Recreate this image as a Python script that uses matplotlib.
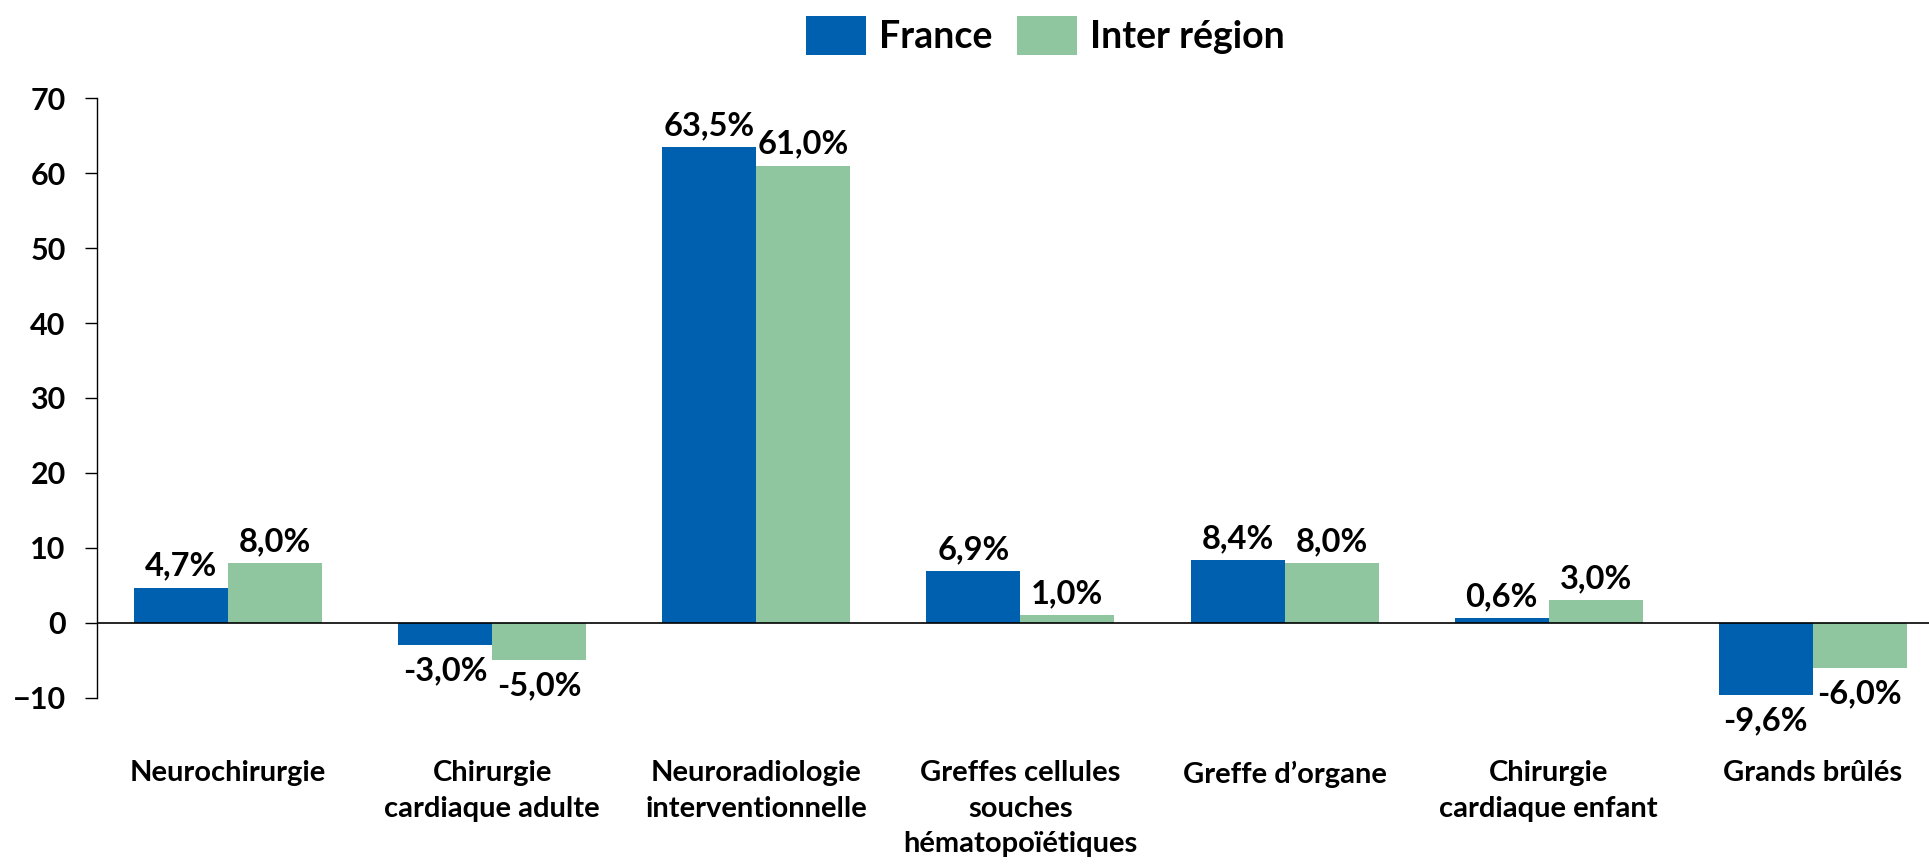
import numpy as np
import matplotlib.pyplot as plt

categories = ['Neurochirurgie', 'Chirurgie\ncardiaque adulte', 'Neuroradiologie\ninterventionnelle',
              'Greffes cellules\nsouches\nhématopoïétiques', 'Greffe d\u2019organe',
              'Chirurgie\ncardiaque enfant', 'Grands brûlés']
france = [4.7, -3.0, 63.5, 6.9, 8.4, 0.6, -9.6]
inter_region = [8.0, -5.0, 61.0, 1.0, 8.0, 3.0, -6.0]
yticks = [-10, 0, 10, 20, 30, 40, 50, 60, 70]

plt.rcParams['font.family'] = ['Lato', 'DejaVu Sans']
plt.rcParams['font.weight'] = 'bold'

fig = plt.figure(figsize=(19.29, 8.68), dpi=100)
ax = fig.add_axes([0.0503, 0.196, 0.9497, 0.691])

x = np.arange(len(categories))
w = 0.356
b1 = ax.bar(x - w / 2, france, w, color='#0060B0', label='France', zorder=2)
b2 = ax.bar(x + w / 2, inter_region, w, color='#8FC6A0', label='Inter région', zorder=2)

for bars, vals in ((b1, france), (b2, inter_region)):
    for rect, v in zip(bars, vals):
        txt = f'{v:.1f}%'.replace('.', ',')
        off = 5 if v >= 0 else -8
        ax.annotate(txt, (rect.get_x() + rect.get_width() / 2, v), xytext=(0, off),
                    textcoords='offset points', ha='center',
                    va='bottom' if v >= 0 else 'top', fontsize=23.5, fontweight='bold')

ax.axhline(0, color='black', lw=1.2, zorder=3)
ax.set_ylim(-10, 70)
ax.set_xlim(-0.496, 6.44)
ax.set_yticks(yticks)
ax.tick_params(axis='y', labelsize=22, length=8.6, width=1, pad=14)
ax.set_xticks(x)
ax.set_xticklabels(categories, fontsize=21, fontweight='bold', linespacing=1.45, va='top')
ax.tick_params(axis='x', length=0, pad=45)
for s in ['top', 'right', 'bottom']:
    ax.spines[s].set_visible(False)
ax.spines['left'].set_linewidth(1)

fig.legend(loc='center', bbox_to_anchor=(0.542, 0.959), ncol=2, frameon=False,
           handlelength=1.6, handleheight=1.2, handletextpad=0.35,
           columnspacing=0.65, prop={'weight': 'bold', 'size': 27})

fig.savefig('out.png', dpi=100)
